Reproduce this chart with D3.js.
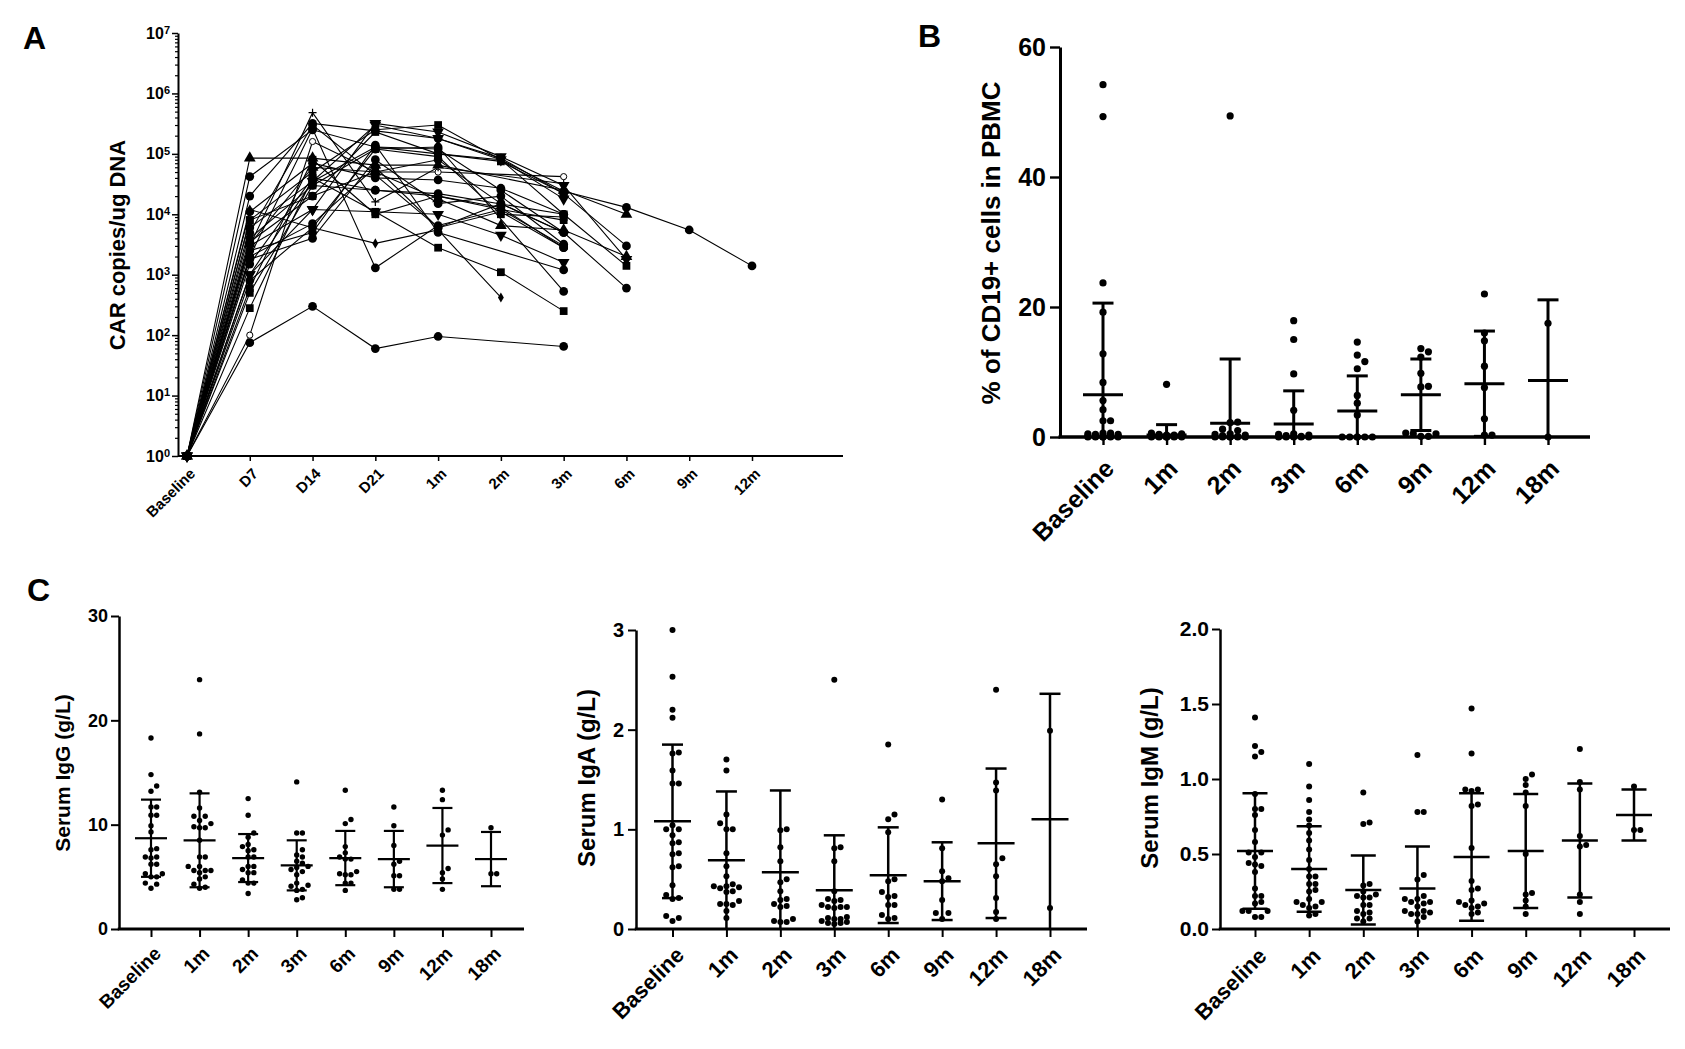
<!DOCTYPE html>
<html>
<head>
<meta charset="utf-8">
<script src="https://cdn.jsdelivr.net/npm/d3@7"></script>
<style>
  body { margin: 0; background: #fff; }
  svg text { font-family: "Liberation Sans", Arial, Helvetica, sans-serif; font-weight: bold; fill: #000; }
</style>
</head>
<body>
<svg id="chart" width="1685" height="1049"></svg>
<script>
// ---- PANEL A DATA : CAR copies/ug DNA per patient ----
var timeA = ["Baseline", "D7", "D14", "D21", "1m", "2m", "3m", "6m", "9m", "12m"];
var carShapes = ["circle", "triangle", "circle", "openCircle", "circle", "square", "triangleDown", "circle", "diamond",
                 "circle", "square", "circle", "circle", "triangle", "triangleDown", "square", "circle", "circle",
                 "circle", "plus", "square", "circle", "triangleDown", "circle", "square", "circle", "circle"];
var carValues = [
  [1, 75, 300, 60, 95, null, 65],
  [1, 8.5e4, 8.5e4, 6.5e4, 6.5e4, null, 2.5e4, 1.0e4],
  [1, 4.2e4, 2.5e5, 1.3e5, 1.0e5, 8.0e4, 2.4e4, 1.3e4, 5.5e3, 1.4e3],
  [1, 100, 1.6e5, 5.0e4, 5.0e4, null, 4.2e4],
  [1, 2.0e4, 3.2e5, 2.4e5, 1.8e5, 8.5e4, 2.2e4, 3.0e3],
  [1, 8.0e3, 5.0e4, 2.5e5, 3.0e5, 8.0e4, 1.0e4, 1.4e3],
  [1, 3.0e3, 1.2e4, 3.2e5, 2.3e5, 9.0e4, 3.0e4, 1.8e3],
  [1, 6.0e3, 3.5e4, 1.3e5, 1.2e5, 2.5e4, 5.0e3, 600],
  [1, 1.2e4, 6.0e3, 3.3e3, 5.5e3, 420],
  [1, 2.0e3, 2.6e5, 1.3e3, 6.5e3, 1.2e4, 3.0e3],
  [1, 280, 4.0e4, 1.1e4, 2.8e3, 1.1e3, 250],
  [1, 800, 6.0e3, 1.2e5, 1.3e5, null, 530],
  [1, 4.0e3, 3.0e4, 2.5e4, 2.0e4, 1.3e4, 2.8e3],
  [1, 3.2e3, 6.0e4, 5.0e4, 1.8e4, 6.5e3, 5.5e3, 2.0e3],
  [1, 1.0e3, 1.2e4, 1.1e4, 1.0e4, 4.5e3, 1.6e3],
  [1, 600, 8.0e4, 1.0e4, 2.0e4, 1.2e4, 8.0e3],
  [1, 2.5e3, 5.0e3, 1.4e5, 5.0e3, null, 1.2e3],
  [1, 1.8e3, 4.0e3, 8.0e4, 1.5e4, 2.0e4, 3.2e3],
  [1, 5.0e3, 3.0e5, 4.5e4, 6.0e3, 1.5e4, 5.0e3],
  [1, 3.0e3, 4.8e5, 1.6e4, 6.0e4, null, 3.2e4],
  [1, 8.0e3, 2.0e4, 2.3e5, 1.0e5, 7.5e4, 2.2e4],
  [1, 1.1e4, 7.0e4, 4.0e4, 3.7e4, 2.7e4, 1.0e4],
  [1, 1.0e3, 3.5e4, 3.0e5, 1.8e5, 8.0e4, 1.8e4],
  [1, 3.5e3, 2.0e4, 5.0e4, 8.0e4, 1.5e4, 5.0e3],
  [1, 500, 3.0e4, 1.2e5, 9.0e4, 1.0e4, 9.0e3],
  [1, 2.0e3, 7.0e3, 6.0e4, 6.0e3, 1.1e4, 2.8e3],
  [1, 1.5e3, 4.0e4, 2.5e4, 2.2e4, null, 1.0e4]
];
var carTickExp = [0, 1, 2, 3, 4, 5, 6, 7];

// ---- PANEL B / C DATA ----
var timeB = ["Baseline", "1m", "2m", "3m", "6m", "9m", "12m", "18m"];

var cd19Points = [
  [54.2, 49.3, 23.7, 19.2, 12.8, 8.4, 5.6, 4.2, 2.5, 2.5, 0.6, 0.6, 0.5, 0.4, 0.4, 0.3, 0.3, 0.2, 0.2, 0.1, 0.1, 0.1, 0, 0, 0, 0, 0, 0],
  [8.1, 0.6, 0.5, 0.4, 0.3, 0.3, 0.2, 0.2, 0.1, 0.1, 0.1, 0, 0, 0, 0, 0, 0, 0],
  [49.4, 2.3, 2.2, 1.2, 1.0, 0.5, 0.4, 0.3, 0.2, 0.1, 0.1, 0, 0, 0, 0, 0, 0],
  [17.9, 15.0, 9.7, 4.1, 0.5, 0.4, 0.3, 0.2, 0.1, 0.1, 0, 0, 0, 0, 0],
  [14.6, 12.6, 11.6, 10.5, 6.4, 5.2, 3.4, 0, 0, 0, 0, 0, 0],
  [13.6, 13.1, 12.3, 9.8, 7.8, 7.7, 0.6, 0.5, 0.5, 0.1, 0.1],
  [22.0, 16.0, 14.8, 10.9, 7.6, 2.8, 0.3, 0.3],
  [17.5, 0]
];
var cd19Mean = [6.5, 0.3, 2.1, 2.0, 4.0, 6.5, 8.2, 8.7];
var cd19Sd = [14.1, 1.6, 9.9, 5.1, 5.4, 5.5, 8.1, 12.4];
var cd19Ticks = [0, 20, 40, 60];

var iggPoints = [
  [18.3, 14.8, 13.7, 13.2, 11.7, 11.7, 10.9, 10.9, 9.9, 9.3, 7.7, 7.6, 6.9, 6.9, 6.8, 6.2, 6.2, 5.3, 5.3, 5.0, 5.0, 4.4, 4.3, 3.9],
  [23.9, 18.7, 13.1, 11.6, 10.8, 10.8, 10.4, 10.1, 9.8, 9.7, 9.7, 8.5, 6.9, 6.9, 6.0, 6.0, 5.6, 5.6, 5.6, 5.4, 5.0, 4.8, 4.3, 4.0, 3.9],
  [12.5, 10.9, 9.2, 8.8, 8.1, 7.9, 7.6, 7.5, 6.9, 6.9, 6.0, 6.0, 5.7, 5.4, 5.4, 4.7, 4.4, 4.4, 3.4],
  [14.1, 9.2, 9.2, 7.6, 7.1, 6.9, 6.5, 6.3, 6.0, 5.9, 5.7, 5.5, 5.2, 4.4, 4.2, 4.1, 3.8, 3.7, 3.0, 2.8],
  [13.3, 10.5, 10.1, 7.9, 7.3, 6.9, 6.7, 6.7, 5.5, 5.2, 5.2, 5.3, 4.4, 4.4, 3.7],
  [11.7, 9.9, 8.0, 6.5, 6.2, 5.1, 5.1, 3.8, 3.8],
  [13.3, 12.4, 9.5, 9.0, 5.8, 5.4, 4.8, 3.8],
  [9.7, 5.3, 5.3]
];
var iggMean = [8.7, 8.5, 6.8, 6.1, 6.8, 6.7, 8.0, 6.7];
var iggSd = [3.7, 4.5, 2.3, 2.4, 2.6, 2.7, 3.6, 2.6];
var iggTicks = [0, 10, 20, 30];

var igaPoints = [
  [3.0, 2.53, 2.2, 2.12, 1.77, 1.76, 1.59, 1.46, 1.46, 1.04, 1.0, 1.0, 0.94, 0.87, 0.86, 0.76, 0.75, 0.63, 0.62, 0.44, 0.34, 0.31, 0.30, 0.13, 0.11, 0.08],
  [1.70, 1.59, 1.15, 1.06, 1.0, 1.0, 0.76, 0.63, 0.53, 0.45, 0.43, 0.43, 0.42, 0.41, 0.38, 0.37, 0.28, 0.25, 0.25, 0.24, 0.18, 0.11],
  [1.0, 0.99, 0.82, 0.68, 0.50, 0.47, 0.38, 0.30, 0.29, 0.25, 0.23, 0.22, 0.10, 0.08, 0.07, 0.07],
  [2.50, 0.82, 0.81, 0.68, 0.38, 0.30, 0.29, 0.28, 0.24, 0.22, 0.22, 0.22, 0.21, 0.12, 0.11, 0.10, 0.10, 0.08, 0.07, 0.06, 0.06, 0.05],
  [1.85, 1.15, 1.10, 0.97, 0.50, 0.48, 0.37, 0.33, 0.32, 0.24, 0.24, 0.14, 0.11, 0.10],
  [1.30, 0.81, 0.58, 0.51, 0.48, 0.29, 0.16, 0.16, 0.10],
  [2.40, 1.47, 1.39, 0.71, 0.65, 0.53, 0.31, 0.17, 0.10],
  [1.99, 0.21]
];
var igaMean = [1.08, 0.69, 0.57, 0.39, 0.54, 0.48, 0.86, 1.10];
var igaSd = [0.77, 0.69, 0.82, 0.55, 0.48, 0.39, 0.75, 1.26];
var igaTicks = [0, 1, 2, 3];

var igmPoints = [
  [1.41, 1.22, 1.18, 1.15, 0.90, 0.80, 0.80, 0.76, 0.66, 0.58, 0.51, 0.51, 0.48, 0.44, 0.43, 0.42, 0.38, 0.27, 0.22, 0.22, 0.18, 0.17, 0.12, 0.12, 0.12, 0.08, 0.08],
  [1.10, 0.95, 0.86, 0.78, 0.73, 0.69, 0.64, 0.59, 0.53, 0.46, 0.40, 0.35, 0.35, 0.30, 0.30, 0.26, 0.25, 0.20, 0.18, 0.18, 0.16, 0.15, 0.14, 0.10, 0.09],
  [0.91, 0.71, 0.70, 0.30, 0.29, 0.25, 0.23, 0.22, 0.21, 0.21, 0.16, 0.16, 0.12, 0.11, 0.10, 0.07, 0.07, 0.05],
  [1.16, 0.78, 0.78, 0.36, 0.33, 0.22, 0.20, 0.20, 0.18, 0.18, 0.17, 0.15, 0.12, 0.12, 0.11, 0.10, 0.10, 0.08, 0.05],
  [1.47, 1.17, 0.93, 0.93, 0.92, 0.83, 0.82, 0.54, 0.32, 0.27, 0.26, 0.19, 0.18, 0.17, 0.16, 0.15, 0.14, 0.11, 0.10],
  [1.03, 1.00, 0.96, 0.91, 0.82, 0.50, 0.24, 0.23, 0.19, 0.15, 0.10],
  [1.20, 0.98, 0.93, 0.62, 0.56, 0.55, 0.23, 0.18, 0.10],
  [0.95, 0.66, 0.66]
];
var igmMean = [0.52, 0.40, 0.26, 0.27, 0.48, 0.52, 0.59, 0.76];
var igmSd = [0.385, 0.285, 0.23, 0.28, 0.425, 0.38, 0.38, 0.17];
var igmTicks = [0, 0.5, 1.0, 1.5, 2.0];


var svg = d3.select("#chart");
svg.append("rect").attr("width", 1685).attr("height", 1049).attr("fill", "#fff");

// PANEL LETTERS
[["A", 23, 49], ["B", 918, 47], ["C", 27, 601]].forEach(function (p) {
  svg.append("text").attr("x", p[1]).attr("y", p[2]).attr("font-size", "32px").text(p[0]);
});

draw_car_panel();

// PANEL B
draw_scatter_panel({
  points: cd19Points, mean: cd19Mean, sd: cd19Sd, ticks: cd19Ticks, fmt: d3.format("d"),
  yDomain: [0, 60], yBottom: 437, yTop: 47, axisX: 1060, axisEnd: 1590, xRange: [1103, 1548],
  tickLen: 10, tickPad: 4, xTickLen: 8, tickFont: 25, labFont: 25, labOff: [6, 27],
  axisW: 3, errW: 3, r: 3.6, meanW: 40, capW: 21, spread: 20,
  title: "% of CD19+ cells in PBMC", titleFont: 26, titleX: 991, titleY: 243
});

// PANEL C
draw_scatter_panel({
  points: iggPoints, mean: iggMean, sd: iggSd, ticks: iggTicks, fmt: d3.format("d"),
  yDomain: [0, 30], yBottom: 929, yTop: 616, axisX: 119, axisEnd: 524, xRange: [151, 491],
  tickLen: 8, tickPad: 3, xTickLen: 8, tickFont: 18, labFont: 19, labOff: [6, 21],
  axisW: 2.5, errW: 2.2, r: 2.7, meanW: 32, capW: 20, spread: 15,
  title: "Serum IgG (g/L)", titleFont: 21, titleX: 63, titleY: 773
});
draw_scatter_panel({
  points: igaPoints, mean: igaMean, sd: igaSd, ticks: igaTicks, fmt: d3.format("d"),
  yDomain: [0, 3], yBottom: 929, yTop: 630, axisX: 636, axisEnd: 1087, xRange: [672.5, 1050],
  tickLen: 8, tickPad: 4, xTickLen: 8, tickFont: 20, labFont: 22, labOff: [7, 22],
  axisW: 2.5, errW: 2.5, r: 3, meanW: 37, capW: 21, spread: 17,
  title: "Serum IgA (g/L)", titleFont: 24, titleX: 587, titleY: 778
});
draw_scatter_panel({
  points: igmPoints, mean: igmMean, sd: igmSd, ticks: igmTicks, fmt: d3.format(".1f"),
  yDomain: [0, 2], yBottom: 929, yTop: 629, axisX: 1220, axisEnd: 1670, xRange: [1255, 1634],
  tickLen: 8, tickPad: 3, xTickLen: 8, tickFont: 21, labFont: 22, labOff: [7, 23],
  axisW: 2.5, errW: 2.5, r: 3, meanW: 36, capW: 25, spread: 17,
  title: "Serum IgM (g/L)", titleFont: 24, titleX: 1150, titleY: 778
});


function draw_car_panel() {
  var x = d3.scalePoint().domain(timeA).range([187, 752]);
  var y = d3.scaleLog().domain([1, 1e7]).range([456, 33]);
  var g = svg.append("g");

  // minor ticks 2..9 of every decade
  var minor = [];
  for (var e = 0; e < 7; e++) {
    for (var m = 2; m < 10; m++) minor.push(m * Math.pow(10, e));
  }
  g.append("g").attr("transform", "translate(178,0)")
    .call(d3.axisLeft(y).tickValues(minor).tickSize(3).tickFormat(""))
    .call(function (s) { s.select(".domain").remove(); })
    .selectAll("line").attr("stroke-width", 1.2);

  var yAxis = g.append("g").attr("transform", "translate(178,0)")
    .call(d3.axisLeft(y).tickValues(carTickExp.map(function (e) { return Math.pow(10, e); }))
      .tickSize(6).tickSizeOuter(0).tickPadding(2));
  yAxis.select(".domain").attr("stroke-width", 2);
  yAxis.selectAll(".tick line").attr("stroke-width", 1.5);
  yAxis.selectAll(".tick text").attr("font-size", "16px").each(function (d) {
    var t = d3.select(this);
    t.text(null);
    t.append("tspan").text("10");
    t.append("tspan").attr("dy", "-0.45em").attr("font-size", "11px").text(Math.round(Math.log10(d)));
  });

  var xAxis = g.append("g").attr("transform", "translate(0,456)")
    .call(d3.axisBottom(x).tickSize(5).tickSizeOuter(0));
  xAxis.select(".domain").remove();
  xAxis.selectAll(".tick line").attr("stroke-width", 1.5);
  xAxis.selectAll(".tick text")
    .attr("x", 0).attr("y", 0).attr("dy", "0.35em")
    .attr("transform", "translate(5,15) rotate(-45)")
    .style("text-anchor", "end").attr("font-size", "15px");
  g.append("line").attr("x1", 178).attr("x2", 843).attr("y1", 456).attr("y2", 456)
    .attr("stroke", "#000").attr("stroke-width", 2);

  // LINES
  var line = d3.line().x(function (d) { return x(d.t); }).y(function (d) { return y(d.v); });
  var series = carValues.map(function (vals, i) {
    var pts = [];
    vals.forEach(function (v, j) { if (v != null) pts.push({ t: timeA[j], v: v }); });
    return { shape: carShapes[i], pts: pts };
  });
  g.selectAll(null).data(series).enter().append("path")
    .attr("d", function (s) { return line(s.pts); })
    .attr("fill", "none").attr("stroke", "#000").attr("stroke-width", 1.1);

  // MARKERS
  var sym = {
    circle: d3.symbol().type(d3.symbolCircle).size(60),
    openCircle: d3.symbol().type(d3.symbolCircle).size(30),
    square: d3.symbol().type(d3.symbolSquare).size(60),
    triangle: d3.symbol().type(d3.symbolTriangle).size(60),
    triangleDown: d3.symbol().type(d3.symbolTriangle).size(60),
    diamond: d3.symbol().type(d3.symbolDiamond).size(30)
  };
  series.forEach(function (s) {
    var sel = g.selectAll(null).data(s.pts).enter().append("path")
      .attr("transform", function (d) {
        return "translate(" + x(d.t) + "," + y(d.v) + ")" + (s.shape === "triangleDown" ? " rotate(180)" : "");
      });
    if (s.shape === "plus") {
      sel.attr("d", "M-4,0H4M0,-4V4").attr("stroke", "#000").attr("stroke-width", 1.2).attr("fill", "none");
    } else {
      sel.attr("d", sym[s.shape]())
        .attr("fill", s.shape === "openCircle" ? "#fff" : "#000")
        .attr("stroke", "#000").attr("stroke-width", s.shape === "openCircle" ? 1 : 0);
    }
  });

  g.append("text").attr("transform", "translate(117,245) rotate(-90)")
    .attr("dy", "0.35em").attr("text-anchor", "middle").attr("font-size", "22px")
    .text("CAR copies/ug DNA");
}


// spread points of one column sideways, within +/- maxDx
function dodge(vals, y, r, maxDx) {
  var pts = vals.map(function (v) { return { v: v, y: y(v), dx: 0 }; })
    .sort(function (a, b) { return b.y - a.y; });
  var placed = [];
  var step = r * 2.1;
  pts.forEach(function (p) {
    var bestDx = 0, bestD = -1;
    for (var k = 0; k < 80; k++) {
      var dx = (k % 2 === 1 ? 1 : -1) * Math.ceil(k / 2) * step;
      if (Math.abs(dx) > maxDx) break;
      var minD = Infinity;
      placed.forEach(function (q) {
        var d = Math.sqrt((q.dx - dx) * (q.dx - dx) + (q.y - p.y) * (q.y - p.y));
        if (d < minD) minD = d;
      });
      if (minD >= 2 * r) { bestDx = dx; bestD = minD; break; }
      if (minD > bestD) { bestD = minD; bestDx = dx; }
    }
    p.dx = bestDx;
    placed.push(p);
  });
  return placed;
}


function draw_scatter_panel(c) {
  var x = d3.scalePoint().domain(timeB).range(c.xRange);
  var y = d3.scaleLinear().domain(c.yDomain).range([c.yBottom, c.yTop]);
  var g = svg.append("g");

  var yAxis = g.append("g").attr("transform", "translate(" + c.axisX + ",0)")
    .call(d3.axisLeft(y).tickValues(c.ticks).tickFormat(c.fmt)
      .tickSize(c.tickLen).tickSizeOuter(0).tickPadding(c.tickPad));
  yAxis.select(".domain").attr("stroke-width", c.axisW);
  yAxis.selectAll(".tick line").attr("stroke-width", c.axisW * 0.8);
  yAxis.selectAll(".tick text").attr("font-size", c.tickFont + "px");

  var xAxis = g.append("g").attr("transform", "translate(0," + c.yBottom + ")")
    .call(d3.axisBottom(x).tickSize(c.xTickLen).tickSizeOuter(0));
  xAxis.select(".domain").remove();
  xAxis.selectAll(".tick line").attr("stroke-width", c.axisW * 0.8);
  xAxis.selectAll(".tick text")
    .attr("x", 0).attr("y", 0).attr("dy", "0.35em")
    .attr("transform", "translate(" + c.labOff[0] + "," + c.labOff[1] + ") rotate(-45)")
    .style("text-anchor", "end").attr("font-size", c.labFont + "px");
  g.append("line").attr("x1", c.axisX - c.axisW / 2).attr("x2", c.axisEnd)
    .attr("y1", c.yBottom).attr("y2", c.yBottom)
    .attr("stroke", "#000").attr("stroke-width", c.axisW + 0.5);

  c.points.forEach(function (vals, i) {
    var cx = x(timeB[i]);
    var placed = dodge(vals, y, c.r, c.spread);
    g.selectAll(null).data(placed).enter().append("circle")
      .attr("cx", function (d) { return cx + d.dx; })
      .attr("cy", function (d) { return d.y; })
      .attr("r", c.r).attr("fill", "#000");

    // MEAN +/- SD
    var m = c.mean[i], s = c.sd[i];
    var hi = y(m + s), lo = y(Math.max(m - s, c.yDomain[0]));
    var bar = function (x1, x2, y1, y2) {
      g.append("line").attr("x1", x1).attr("x2", x2).attr("y1", y1).attr("y2", y2)
        .attr("stroke", "#000").attr("stroke-width", c.errW);
    };
    bar(cx, cx, lo, hi);
    bar(cx - c.capW / 2, cx + c.capW / 2, hi, hi);
    if (m - s > c.yDomain[0]) bar(cx - c.capW / 2, cx + c.capW / 2, lo, lo);
    bar(cx - c.meanW / 2, cx + c.meanW / 2, y(m), y(m));
  });

  g.append("text").attr("transform", "translate(" + c.titleX + "," + c.titleY + ") rotate(-90)")
    .attr("dy", "0.35em").attr("text-anchor", "middle").attr("font-size", c.titleFont + "px")
    .text(c.title);
}
</script>
</body>
</html>
